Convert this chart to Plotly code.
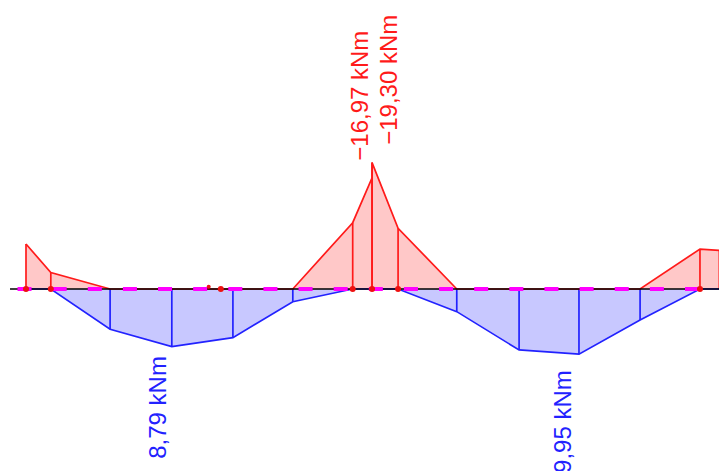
import plotly.graph_objects as go

# stations along the beam (m)
stations = [0.00, 0.41, 1.39, 2.41, 3.42, 4.41, 5.40, 5.72, 5.72, 6.15, 7.12, 8.15, 9.14, 10.15, 11.14, 11.46]
# negative (hogging) envelope, kNm
m_min = [-6.87, -2.50, 0.0, 0.0, 0.0, 0.0, -10.12, -16.97, -19.30, -9.27, 0.0, 0.0, 0.0, 0.0, -6.10, -5.90]
# positive (sagging) envelope, kNm
m_max = [0.0, 0.0, 6.15, 8.79, 7.43, 1.94, 0.0, 0.0, 0.0, 0.0, 3.46, 9.31, 9.95, 4.73, 0.0, 0.0]

# node / support points
nodes_x = [0.00, 0.41, 3.22, 5.40, 5.72, 6.15, 11.14]

# value labels
label_x = [5.52, 5.98, 2.18, 8.87]
label_m = [-29.5, -31.9, 18.0, 20.2]
label_text = ["−16,97 kNm", "−19,30 kNm", "8,79 kNm", "9,95 kNm"]
label_side = ["neg", "neg", "pos", "pos"]

RED = "#ff1a1a"
BLUE = "#2222ff"
RED_FILL = "#ffc8c8"
BLUE_FILL = "#c8c8ff"

fig = go.Figure()

fig.add_trace(go.Scatter(
    x=[stations[0]] + stations + [stations[-1]],
    y=[0] + m_min + [0],
    mode="lines", fill="toself", fillcolor=RED_FILL,
    line=dict(width=0), hoverinfo="skip", showlegend=False))
fig.add_trace(go.Scatter(
    x=[stations[0]] + stations + [stations[-1]],
    y=[0] + m_max + [0],
    mode="lines", fill="toself", fillcolor=BLUE_FILL,
    line=dict(width=0), hoverinfo="skip", showlegend=False))

vx_r, vy_r, vx_b, vy_b = [], [], [], []
for x, lo, hi in zip(stations, m_min, m_max):
    if lo != 0:
        vx_r += [x, x, None]
        vy_r += [0, lo, None]
    if hi != 0:
        vx_b += [x, x, None]
        vy_b += [0, hi, None]
fig.add_trace(go.Scatter(x=vx_r, y=vy_r, mode="lines", line=dict(color=RED, width=1.7),
                         hoverinfo="skip", showlegend=False))
fig.add_trace(go.Scatter(x=vx_b, y=vy_b, mode="lines", line=dict(color=BLUE, width=1.7),
                         hoverinfo="skip", showlegend=False))

fig.add_trace(go.Scatter(x=stations, y=m_min, mode="lines", line=dict(color=RED, width=1.7),
                         hoverinfo="skip", showlegend=False))
fig.add_trace(go.Scatter(x=stations, y=m_max, mode="lines", line=dict(color=BLUE, width=1.7),
                         hoverinfo="skip", showlegend=False))

x_lo = -0.4298
x_hi = 11.4545
fig.add_trace(go.Scatter(x=[-0.264, x_hi + 0.1], y=[0, 0], mode="lines",
                         line=dict(color="#000000", width=1.5), hoverinfo="skip", showlegend=False))
fig.add_trace(go.Scatter(x=[-0.14, x_hi + 0.1], y=[0, 0], mode="lines",
                         line=dict(color="#ff00ff", width=4, dash="14px,21.13px"),
                         hoverinfo="skip", showlegend=False))

fig.add_trace(go.Scatter(x=nodes_x, y=[0] * len(nodes_x), mode="markers",
                         marker=dict(color="#ee1111", size=6), hoverinfo="skip", showlegend=False))
fig.add_trace(go.Scatter(x=[3.02], y=[-0.35], mode="markers",
                         marker=dict(color="#ee1111", size=4), hoverinfo="skip", showlegend=False))

for x, m, t, s in zip(label_x, label_m, label_text, label_side):
    fig.add_annotation(x=x, y=m, text=t, textangle=-90, showarrow=False,
                       xanchor="center", yanchor="middle",
                       font=dict(family="Liberation Sans, Arial, sans-serif", size=24,
                                 color=RED if s == "neg" else BLUE))

fig.update_layout(
    width=719, height=471,
    margin=dict(l=0, r=0, t=0, b=0),
    plot_bgcolor="white", paper_bgcolor="white",
    xaxis=dict(range=[x_lo, x_hi], visible=False, showgrid=False, zeroline=False),
    yaxis=dict(range=[27.79, -44.12], visible=False, showgrid=False, zeroline=False),
)

fig.write_html("out.html",
               config={"displayModeBar": False},
               post_script="document.body.style.margin='0';document.body.style.overflow='hidden';")
